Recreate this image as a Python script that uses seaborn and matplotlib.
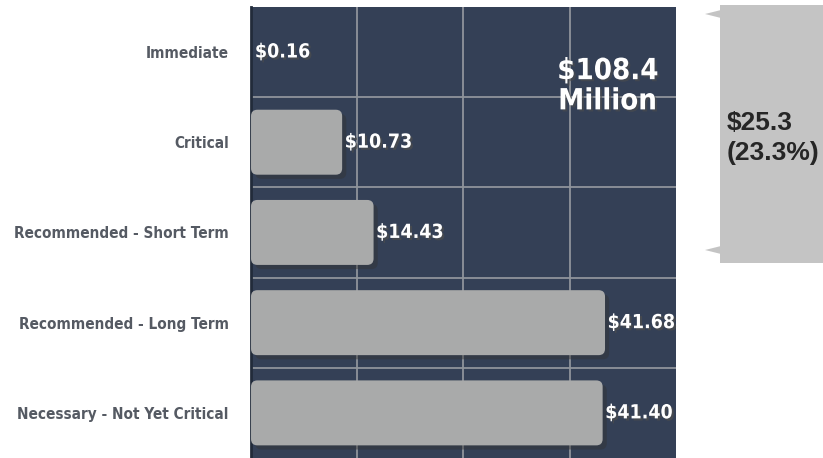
import pandas as pd
import numpy as np
import seaborn as sns
import matplotlib.pyplot as plt
import matplotlib.patheffects as pe
from matplotlib.patches import FancyBboxPatch, Polygon

# Dados do gráfico
categorias = ['Immediate', 'Critical', 'Recommended - Short Term',
              'Recommended - Long Term', 'Necessary - Not Yet Critical']
valores = [0.16, 10.73, 14.43, 41.68, 41.40]
rotulos = ['$0.16', '$10.73', '$14.43', '$41.68', '$41.40']
total_texto = '$108.4\nMillion'
chave_texto = '$25.3\n(23.3%)'

df = pd.DataFrame({'categoria': categorias, 'valor': valores})

fundo = '#344056'
cinza_barra = '#a9aaaa'

sns.set_style('white')
plt.rcParams['font.family'] = ['DejaVu Sans']
plt.rcParams['font.stretch'] = 'condensed'

fig = plt.figure(figsize=(8.23, 4.58), dpi=100)
ax = fig.add_axes([0.305, 0.0, 0.516, 0.985])
ax.set_facecolor(fundo)

sns.barplot(data=df, x='valor', y='categoria', color=cinza_barra,
            width=0.72, ax=ax, saturation=1, zorder=3)

ax.set_xlim(0, 50)
ax.set_ylim(4.5, -0.5)

# Substituir as barras por retângulos arredondados com sombra
for p in list(ax.patches):
    x0, y0 = p.get_x(), p.get_y()
    w, h = p.get_width(), p.get_height()
    p.remove()
    if w < 1:
        continue
    caixa = FancyBboxPatch((x0, y0), w, h,
                           boxstyle='round,pad=0,rounding_size=0.75',
                           mutation_aspect=0.094, facecolor=cinza_barra,
                           edgecolor='none', zorder=3)
    caixa.set_path_effects([pe.SimplePatchShadow(offset=(3, -3), alpha=0.45),
                            pe.Normal()])
    ax.add_patch(caixa)

# Grade
ax.set_xticks([12.5, 25, 37.5])
ax.set_yticks([0.5, 1.5, 2.5, 3.5], minor=True)
ax.grid(True, axis='x', color='#8f949b', linewidth=1.3, zorder=1)
ax.grid(True, axis='y', which='minor', color='#8f949b', linewidth=1.3, zorder=1)
ax.set_axisbelow(True)
ax.tick_params(axis='x', length=0, labelbottom=False)
ax.tick_params(axis='y', length=0, pad=16)
ax.set_xlabel('')
ax.set_ylabel('')
for lab in ax.get_yticklabels():
    lab.set_fontsize(11)
    lab.set_fontweight('bold')
    lab.set_fontstretch('condensed')
    lab.set_color('#555a63')
for s in ax.spines.values():
    s.set_visible(False)
ax.spines['left'].set_visible(True)
ax.spines['left'].set_color('#222b3a')
ax.spines['left'].set_linewidth(2)

# Rótulos dos valores
for i, (v, r) in enumerate(zip(valores, rotulos)):
    ax.text(v + 0.3, i, r, color='white', fontsize=14, fontweight='bold',
            fontstretch='condensed', va='center', ha='left', zorder=5,
            path_effects=[pe.withSimplePatchShadow(offset=(1.5, -1.5), alpha=0.7)])

ax.text(42.0, 0.38, total_texto, color='white', fontsize=21, fontweight='bold',
        fontstretch='condensed', ha='center', va='center', linespacing=1.1, zorder=5,
        path_effects=[pe.withSimplePatchShadow(offset=(1.5, -1.5), alpha=0.6)])

# Caixa lateral com a chave
fig.patches.append(FancyBboxPatch((720 / 823, 1 - 263 / 458), 103 / 823, 258 / 458,
                                  boxstyle='square,pad=0', facecolor='#c4c4c4',
                                  edgecolor='none', transform=fig.transFigure))
for yp in [14, 250]:
    y = 1 - yp / 458
    fig.patches.append(Polygon([(705 / 823, y), (721 / 823, y + 4 / 458),
                                (721 / 823, y - 4 / 458)], closed=True,
                               facecolor='#c4c4c4', edgecolor='none',
                               transform=fig.transFigure))
fig.text(727 / 823, 1 - 138 / 458, chave_texto, family=['Liberation Sans', 'DejaVu Sans'],
         fontstretch='normal', fontsize=19, fontweight='bold', color='#262626',
         ha='left', va='center', linespacing=1.3)

fig.savefig('out.png', dpi=100, facecolor='white')
